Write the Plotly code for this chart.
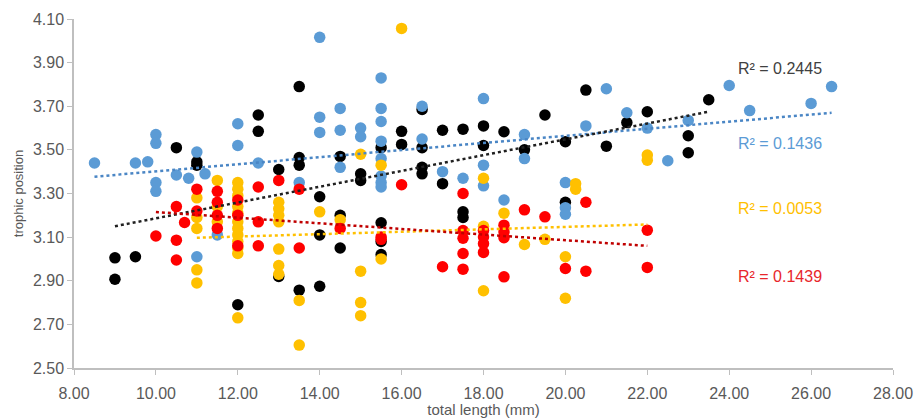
import plotly.graph_objects as go

# ---------- data ----------
blue_x = [8.5, 9.5, 9.8, 10, 10, 10, 10, 10.5, 10.8, 11, 11, 11.2, 11.5, 12, 12, 12.5, 13.5,
          14, 14, 14, 14.5, 14.5, 14.5, 15, 15, 15.5, 15.5, 15.5, 15.5, 15.5, 15.5, 15.5, 15.5,
          16.5, 16.5, 17, 17.5, 18, 18, 18, 18.5, 19, 19, 20, 20, 20, 20.5, 21, 21.5, 22, 22.5,
          23, 24, 24.5, 26, 26.5]
blue_y = [3.44, 3.44, 3.445, 3.57, 3.53, 3.35, 3.31, 3.385, 3.37, 3.49, 3.01, 3.39, 3.11, 3.62, 3.52, 3.44, 3.35,
          4.016, 3.65, 3.58, 3.69, 3.59, 3.42, 3.60, 3.56, 3.83, 3.69, 3.63, 3.54, 3.46, 3.38, 3.35, 3.33,
          3.70, 3.55, 3.40, 3.37, 3.735, 3.43, 3.335, 3.27, 3.57, 3.46, 3.35, 3.235, 3.205, 3.61, 3.78, 3.67, 3.60, 3.45,
          3.635, 3.795, 3.68, 3.713, 3.79]

black_x = [9, 9, 9.5, 10.5, 11, 11, 12, 12.5, 12.5, 13, 13, 13.5, 13.5, 13.5, 13.5, 14, 14, 14,
           14.5, 14.5, 14.5, 15, 15, 15.5, 15.5, 15.5, 15.5, 16, 16, 16.5, 16.5, 16.5, 16.5,
           17, 17, 17.5, 17.5, 17.5, 18, 18, 18.5, 19, 19.5, 20, 20, 20.5, 21, 21.5, 22, 23, 23, 23.5]
black_y = [3.005, 2.907, 3.01, 3.51, 3.445, 3.43, 2.79, 3.66, 3.585, 3.41, 2.92, 3.79, 3.465, 3.43, 2.857, 3.285, 3.11, 2.875,
           3.47, 3.20, 3.05, 3.39, 3.36, 3.51, 3.166, 3.08, 3.02, 3.585, 3.525, 3.685, 3.51, 3.42, 3.39,
           3.59, 3.345, 3.595, 3.216, 3.19, 3.61, 3.52, 3.583, 3.50, 3.66, 3.537, 3.26, 3.774, 3.517, 3.625, 3.675, 3.565, 3.487, 3.73]

yellow_x = [11, 11, 11, 11, 11, 11.5, 11.5, 11.5, 12, 12, 12, 12, 12, 12, 12, 12, 12, 12, 12, 12,
            13, 13, 13, 13, 13, 13, 13, 13.5, 13.5, 14, 14.5, 15, 15, 15, 15, 15.5, 15.5, 16,
            18, 18, 18, 18.5, 19, 19.5, 20, 20, 20.25, 20.25, 22, 22]
yellow_y = [3.28, 3.19, 3.14, 2.95, 2.89, 3.36, 3.24, 3.17, 3.35, 3.32, 3.29, 3.24, 3.21, 3.17, 3.14, 3.11, 3.08, 3.05, 3.025, 2.73,
            3.26, 3.23, 3.20, 3.17, 3.045, 2.97, 2.93, 2.81, 2.605, 3.216, 3.18, 3.48, 2.944, 2.80, 2.74, 3.43, 3.00, 4.057,
            3.37, 3.15, 2.854, 3.21, 3.066, 3.09, 3.01, 2.82, 3.345, 3.32, 3.476, 3.453]

red_x = [10, 10.5, 10.5, 10.5, 10.7, 11, 11, 11.5, 11.5, 11.5, 11.5, 12, 12, 12, 12.5, 12.5, 12.5,
         13, 13.5, 13.5, 14.5, 15.5, 15.5, 16, 17, 17.5, 17.5, 17.5, 17.5, 17.5, 18, 18, 18, 18,
         18.5, 18.5, 18.5, 18.5, 19, 19.5, 20, 20.5, 20.5, 22, 22]
red_y = [3.105, 3.24, 3.086, 2.995, 3.167, 3.32, 3.22, 3.31, 3.26, 3.20, 3.14, 3.27, 3.20, 3.06, 3.33, 3.17, 3.06,
         3.36, 3.32, 3.05, 3.14, 3.10, 3.09, 3.34, 2.964, 3.30, 3.13, 3.095, 3.025, 2.953, 3.13, 3.10, 3.07, 3.03,
         3.155, 3.124, 3.097, 2.918, 3.225, 3.193, 2.956, 3.26, 2.944, 3.132, 2.961]

# trend line end points (x range, y values)
trend_black_x = [9, 23.5]
trend_black_y = [3.15, 3.675]
trend_blue_x = [8.5, 26.5]
trend_blue_y = [3.377, 3.67]
trend_yellow_x = [11, 22]
trend_yellow_y = [3.097, 3.158]
trend_red_x = [10, 22]
trend_red_y = [3.215, 3.06]

r2_labels = ["R² = 0.2445", "R² = 0.1436", "R² = 0.0053", "R² = 0.1439"]
r2_y = [3.875, 3.53, 3.232, 2.92]

x_ticks = [8, 10, 12, 14, 16, 18, 20, 22, 24, 26, 28]
y_ticks = [2.5, 2.7, 2.9, 3.1, 3.3, 3.5, 3.7, 3.9, 4.1]

# ---------- styles ----------
C_BLACK = "#000000"
C_BLUE = "#5B9BD5"
C_YELLOW = "#FFC000"
C_RED = "#FF0000"
label_colors = ["#404040", "#5B9BD5", "#FFC000", "#E8262B"]
FONT = "Liberation Sans, Arial"

fig = go.Figure()

for xs, ys, c in [(black_x, black_y, C_BLACK), (blue_x, blue_y, C_BLUE),
                  (yellow_x, yellow_y, C_YELLOW), (red_x, red_y, C_RED)]:
    fig.add_trace(go.Scatter(x=xs, y=ys, mode="markers",
                             marker=dict(color=c, size=11.5, line=dict(width=0)),
                             showlegend=False, hoverinfo="x+y"))

for xs, ys, c in [(trend_blue_x, trend_blue_y, "#4A86C5"), (trend_black_x, trend_black_y, "#202020"),
                  (trend_yellow_x, trend_yellow_y, C_YELLOW), (trend_red_x, trend_red_y, "#C00000")]:
    fig.add_trace(go.Scatter(x=xs, y=ys, mode="lines",
                             line=dict(color=c, width=2.5, dash="dot"),
                             showlegend=False, hoverinfo="skip"))

for txt, yv, col in zip(r2_labels, r2_y, label_colors):
    fig.add_annotation(x=25.25, y=yv, text=txt, showarrow=False,
                       font=dict(family=FONT, size=16, color=col),
                       xanchor="center", yanchor="middle")

axis_common = dict(showgrid=False, zeroline=False, showline=True, linecolor="#BFBFBF", linewidth=1.5,
                   ticks="outside", tickcolor="#BFBFBF", ticklen=5, automargin=False,
                   tickfont=dict(family=FONT, size=16, color="#595959"))

fig.update_xaxes(range=[8, 28], tickvals=x_ticks, ticktext=[f"{v:.2f}" for v in x_ticks],
                 ticklabelstandoff=5,
                 title=dict(text="total length (mm)", standoff=8,
                            font=dict(family=FONT, size=15, color="#595959")),
                 **axis_common)
fig.update_yaxes(range=[2.5, 4.1], tickvals=y_ticks, ticktext=[f"{v:.2f}" for v in y_ticks],
                 title=dict(text="trophic position", standoff=6,
                            font=dict(family=FONT, size=13, color="#595959")),
                 **axis_common)

fig.update_layout(width=915, height=418, margin=dict(l=74, r=22, t=19, b=50),
                  plot_bgcolor="white", paper_bgcolor="white", showlegend=False)

fig.write_html("out.html")
